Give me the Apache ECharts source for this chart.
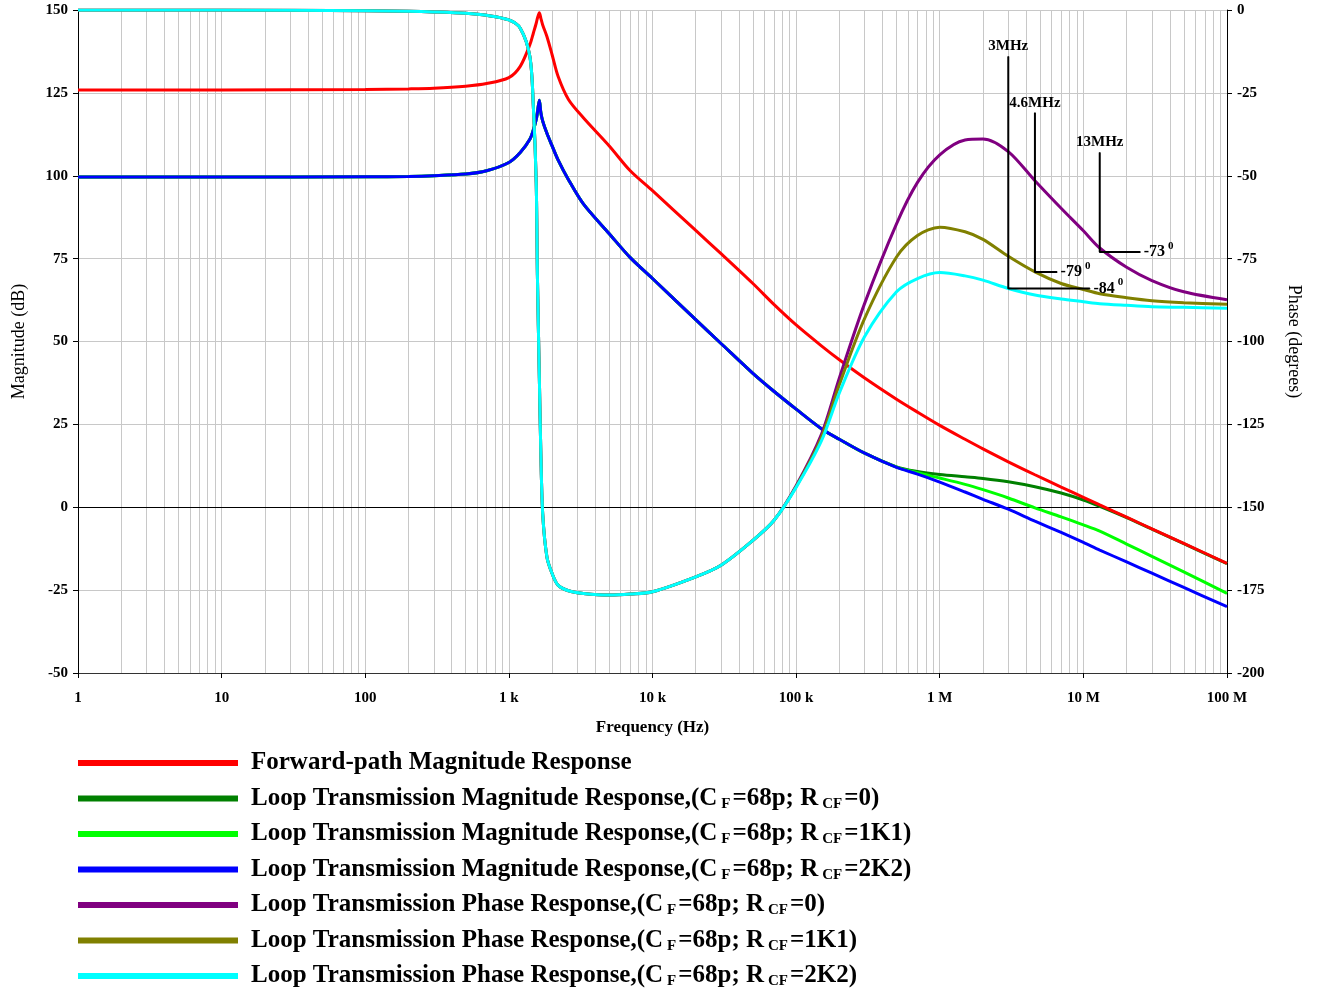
<!DOCTYPE html>
<html lang="en">
<head>
<meta charset="UTF-8">
<title>Loop Transmission Bode Plot</title>
<script src="https://cdn.jsdelivr.net/npm/echarts@6/dist/echarts.min.js"></script>
<style>
    html, body { margin: 0; padding: 0; background: #ffffff; }
    #chart { width: 1324px; height: 1000px; }
</style>
</head>
<body>
<div id="chart"></div>
<script>
// frequency points (Hz) shared by all curves
var freq = [1, 10, 100, 200, 300, 500, 700, 1000, 1200, 1400, 1480, 1550, 1580, 1630, 1670, 1720, 1840, 2000, 2200, 2600, 3300, 5000, 7000,
    1e4, 2e4, 3e4, 5e4, 7e4, 1e5, 1.5e5, 2e5, 3e5, 5e5, 7e5, 1e6, 1.5e6, 2e6, 3e6, 4.6e6, 7e6, 1e7, 1.3e7, 2e7, 3e7, 5e7, 1e8];

// magnitudes (dB)
var fwdMag = [125.9, 125.9, 126.0, 126.2, 126.4, 127.0, 127.8, 129.6, 133.0, 139.5, 143.0, 146.0, 147.5, 149.2, 147.5, 145.5, 142.0, 136.5, 130.0, 123.0, 117.5, 109.0, 101.5,
    95.5, 83.5, 76.5, 67.5, 61.2, 55.0, 48.7, 44.5, 39.0, 32.6, 28.7, 24.7, 20.5, 17.6, 13.7, 9.8, 6.1, 3.0, 0.7, -3.0, -6.5, -10.9, -16.9];
var magR0 = [99.6, 99.6, 99.7, 99.8, 100.0, 100.5, 101.5, 104.0, 107.0, 111.0, 113.8, 117.0, 119.0, 122.8, 119.0, 116.5, 112.8, 109.0, 104.8, 98.8, 91.5, 82.5, 75.3,
    69.0, 56.6, 49.4, 40.4, 35.0, 29.6, 23.7, 20.5, 16.3, 12.2, 10.8, 9.9, 9.2, 8.7, 7.7, 6.2, 4.3, 2.2, 0.3, -3.1, -6.6, -11.0, -17.0];
var magR1K1 = [99.6, 99.6, 99.7, 99.8, 100.0, 100.5, 101.5, 104.0, 107.0, 111.0, 113.8, 117.0, 119.0, 122.8, 119.0, 116.5, 112.8, 109.0, 104.8, 98.8, 91.5, 82.5, 75.3,
    69.0, 56.6, 49.4, 40.4, 35.0, 29.6, 23.7, 20.5, 16.3, 12.1, 10.4, 8.8, 6.9, 5.3, 2.8, -0.2, -2.9, -5.3, -7.2, -11.1, -14.8, -19.5, -26.0];
var magR2K2 = [99.6, 99.6, 99.7, 99.8, 100.0, 100.5, 101.5, 104.0, 107.0, 111.0, 113.8, 117.0, 119.0, 122.8, 119.0, 116.5, 112.8, 109.0, 104.8, 98.8, 91.5, 82.5, 75.3,
    69.0, 56.6, 49.4, 40.4, 35.0, 29.6, 23.7, 20.5, 16.3, 12.0, 10.0, 7.6, 4.6, 2.4, -0.6, -4.2, -7.6, -10.6, -12.9, -16.5, -19.9, -24.2, -30.0];

// phases (degrees)
var phR0 = [0, 0, -0.2, -0.4, -0.6, -1.0, -1.6, -3.0, -5.5, -14.0, -29, -52, -80, -111, -134, -152, -165, -170, -173.5, -175.2, -176.0, -176.5, -176.2,
    -175.5, -171.0, -167.5, -160.0, -154.0, -143.5, -128.0, -111.0, -88.5, -64.5, -52.0, -43.7, -39.2, -38.9, -42.7, -51.5, -59.8, -66.6, -71.8, -77.6, -81.6, -85.0, -87.4];
var phR1K1 = [0, 0, -0.2, -0.4, -0.6, -1.0, -1.6, -3.0, -5.5, -14.0, -29, -52, -80, -111, -134, -152, -165, -170, -173.5, -175.2, -176.0, -176.5, -176.2,
    -175.5, -171.0, -167.5, -160.0, -154.0, -143.8, -129.0, -113.0, -93.0, -74.5, -68.0, -65.5, -66.9, -69.2, -74.3, -79.0, -82.5, -84.3, -85.6, -86.8, -87.7, -88.3, -88.8];
var phR2K2 = [0, 0, -0.2, -0.4, -0.6, -1.0, -1.6, -3.0, -5.5, -14.0, -29, -52, -80, -111, -134, -152, -165, -170, -173.5, -175.2, -176.0, -176.5, -176.2,
    -175.5, -171.0, -167.5, -160.0, -154.0, -144.0, -130.0, -115.5, -98.5, -85.0, -81.0, -79.2, -80.2, -81.5, -84.0, -86.0, -87.2, -88.0, -88.6, -89.1, -89.5, -89.7, -90.0];

// phase-margin call-outs
var annFreq = [3e6, 4.6e6, 13e6];
var annTop = [-14, -31, -43];
var annPhase = [-84, -79, -73];
var annEnd = [1.11e7, 6.56e6, 2.49e7];
var annText = ['3MHz', '4.6MHz', '13MHz'];

var seriesNames = [
    'Forward-path Magnitude Response',
    'LT Mag R0', 'LT Mag R1K1', 'LT Mag R2K2',
    'LT Phase R0', 'LT Phase R1K1', 'LT Phase R2K2'
];
var legendText = [
    'Forward-path Magnitude Response',
    'Loop Transmission Magnitude Response,(C{s|F}=68p; R{s|CF}=0)',
    'Loop Transmission Magnitude Response,(C{s|F}=68p; R{s|CF}=1K1)',
    'Loop Transmission Magnitude Response,(C{s|F}=68p; R{s|CF}=2K2)',
    'Loop Transmission Phase Response,(C{s|F}=68p; R{s|CF}=0)',
    'Loop Transmission Phase Response,(C{s|F}=68p; R{s|CF}=1K1)',
    'Loop Transmission Phase Response,(C{s|F}=68p; R{s|CF}=2K2)'
];

var FONT = 'Liberation Serif';

function pairs(arr) {
    return freq.map(function (f, i) { return [f, arr[i]]; });
}

// minor vertical grid lines 2..9 per decade
var minorGrid = [];
for (var d = 0; d < 8; d++) {
    for (var k = 2; k <= 9; k++) minorGrid.push({ xAxis: k * Math.pow(10, d) });
}

function curve(name, data, color, yIdx) {
    return {
        name: name, type: 'line', data: pairs(data), yAxisIndex: yIdx,
        showSymbol: false, symbol: 'none', smooth: 0.3, silent: true,
        lineStyle: { color: color, width: 3 }, itemStyle: { color: color }
    };
}

function callout(i) {
    return {
        type: 'line', yAxisIndex: 1, silent: true, symbol: 'circle', symbolSize: 1, showSymbol: true, z: 4,
        lineStyle: { color: '#000', width: 2 }, itemStyle: { color: '#000' },
        data: [
            { value: [annFreq[i], annTop[i]], label: { show: true, position: 'top', distance: 2, formatter: annText[i] } },
            [annFreq[i], annPhase[i]],
            { value: [annEnd[i], annPhase[i]], label: { show: true, position: 'right', distance: 3, formatter: '{n|' + annPhase[i] + '}{sup|0}' } }
        ],
        label: {
            fontFamily: FONT, fontWeight: 'bold', fontSize: 15, color: '#000',
            rich: {
                n: { fontFamily: FONT, fontWeight: 'bold', fontSize: 16, color: '#000' },
                sup: { fontFamily: FONT, fontWeight: 'bold', fontSize: 11, color: '#000', padding: [0, 0, 12, 3] }
            }
        }
    };
}

var chart = echarts.init(document.getElementById('chart'), null, { renderer: 'canvas' });

var option = {
    animation: false,
    backgroundColor: '#ffffff',
    textStyle: { fontFamily: FONT },
    grid: { left: 78, right: 97, top: 10, bottom: 327 },
    legend: {
        data: seriesNames,
        orient: 'vertical', left: 78, top: 750, padding: 0,
        itemWidth: 160, itemHeight: 6, itemGap: 9.5,
        icon: 'rect',
        selectedMode: false,
        formatter: function (name) { return legendText[seriesNames.indexOf(name)]; },
        textStyle: {
            fontFamily: FONT, fontWeight: 'bold', fontSize: 25, lineHeight: 26, color: '#000', padding: [0, 0, 0, 8],
            rich: {
                s: { fontFamily: FONT, fontWeight: 'bold', fontSize: 15, color: '#000', padding: [11, 2, 0, 4] }
            }
        }
    },
    xAxis: {
        type: 'log', logBase: 10, min: 1, max: 1e8, splitNumber: 8,
        name: 'Frequency (Hz)', nameLocation: 'middle', nameGap: 46,
        nameTextStyle: { fontFamily: FONT, fontWeight: 'bold', fontSize: 17, color: '#000' },
        axisLine: { onZero: false, lineStyle: { color: '#333', width: 1 } },
        axisTick: { show: true, length: 5, lineStyle: { color: '#000' } },
        axisLabel: {
            fontFamily: FONT, fontWeight: 'bold', fontSize: 15, color: '#000', margin: 18,
            formatter: function (v) {
                v = Math.round(v);
                if (v >= 1e6) return (v / 1e6) + ' M';
                if (v >= 1e3) return (v / 1e3) + ' k';
                return String(v);
            }
        },
        splitLine: { show: true, lineStyle: { color: '#c8c8c8', width: 1 } }
    },
    yAxis: [
        {
            type: 'value', min: -50, max: 150, interval: 25,
            name: 'Magnitude (dB)', nameLocation: 'middle', nameGap: 50,
            nameTextStyle: { fontFamily: FONT, fontSize: 18, color: '#000' },
            axisLine: { show: true, lineStyle: { color: '#000' } },
            axisTick: { show: true, length: 5, lineStyle: { color: '#000' } },
            axisLabel: { fontFamily: FONT, fontWeight: 'bold', fontSize: 15, color: '#000', margin: 10 },
            splitLine: { show: true, lineStyle: { color: '#c8c8c8', width: 1 } }
        },
        {
            type: 'value', min: -200, max: 0, interval: 25, position: 'right',
            name: 'Phase (degrees)', nameLocation: 'middle', nameGap: 58, nameRotate: -90,
            nameTextStyle: { fontFamily: FONT, fontSize: 18, color: '#000' },
            axisLine: { show: true, lineStyle: { color: '#000' } },
            axisTick: { show: true, length: 5, lineStyle: { color: '#000' } },
            axisLabel: { fontFamily: FONT, fontWeight: 'bold', fontSize: 15, color: '#000', margin: 10 },
            splitLine: { show: false }
        }
    ],
    series: [
        {
            type: 'line', data: [], silent: true,
            markLine: {
                silent: true, symbol: 'none', z: 1, label: { show: false },
                lineStyle: { color: '#c8c8c8', width: 1, type: 'solid' },
                data: minorGrid.concat([{ yAxis: 0, lineStyle: { color: '#000', width: 1 } }])
            }
        },
        curve(seriesNames[1], magR0, '#008000', 0),
        curve(seriesNames[2], magR1K1, '#00ff00', 0),
        curve(seriesNames[3], magR2K2, '#0000ff', 0),
        curve(seriesNames[0], fwdMag, '#ff0000', 0),
        curve(seriesNames[4], phR0, '#800080', 1),
        curve(seriesNames[5], phR1K1, '#808000', 1),
        curve(seriesNames[6], phR2K2, '#00ffff', 1),
        callout(0), callout(1), callout(2)
    ]
};

chart.setOption(option);
</script>
</body>
</html>
